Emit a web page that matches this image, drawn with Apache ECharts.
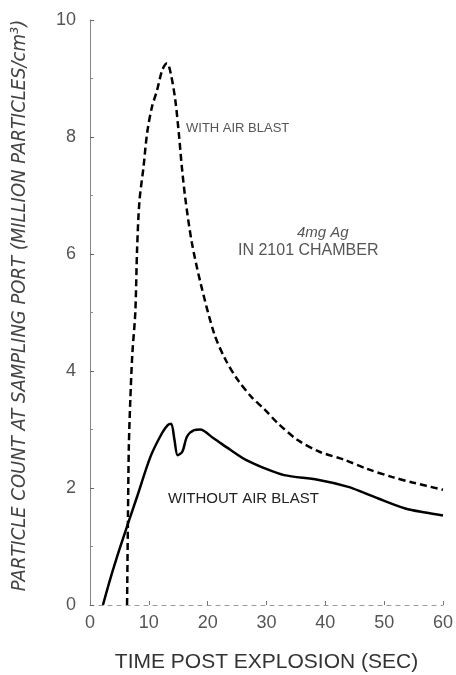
<!DOCTYPE html>
<html>
<head>
<meta charset="utf-8">
<script src="https://cdn.jsdelivr.net/npm/echarts@6/dist/echarts.min.js"></script>
<style>html,body{margin:0;padding:0;background:#fff}#c{width:456px;height:675px}</style>
</head>
<body>
<div id="c"></div>
<script>
// Without air blast (solid)
var withoutX = [2.2, 3.4, 5.0, 6.55, 8.0, 10.3, 12.25, 13.25, 13.8, 14.36, 14.9, 15.7, 16.5, 17.7, 18.7, 21.0, 23.9, 26.5, 29.6, 33.0, 38.7, 43.9, 46.5, 49.0, 53.6, 57.0, 60.0];
var withoutY = [0.0, 0.43, 0.95, 1.42, 1.85, 2.54, 2.94, 3.08, 3.1, 2.82, 2.56, 2.62, 2.88, 2.99, 3.0, 2.85, 2.65, 2.48, 2.34, 2.22, 2.14, 2.02, 1.92, 1.82, 1.65, 1.58, 1.53];
// With air blast (dashed)
var withX = [6.3, 6.45, 6.6, 6.85, 7.2, 7.7, 8.0, 8.4, 9.1, 9.7, 10.5, 11.4, 12.3, 13.1, 13.7, 14.5, 15.1, 15.6, 16.2, 17.3, 18.8, 21.1, 23.0, 25.1, 27.5, 29.6, 32.0, 35.3, 39.0, 43.3, 47.0, 51.3, 55.0, 60.0];
var withY = [0.0, 1.5, 2.7, 3.5, 4.3, 5.0, 6.07, 6.9, 7.49, 8.06, 8.5, 8.8, 9.15, 9.26, 9.1, 8.63, 8.06, 7.5, 6.95, 6.2, 5.5, 4.64, 4.2, 3.85, 3.55, 3.35, 3.1, 2.82, 2.62, 2.48, 2.33, 2.19, 2.09, 1.97];
var xTicks = ['0', '10', '20', '30', '40', '50', '60'];
var yTicks = ['0', '2', '4', '6', '8', '10'];
var labels = {
  withBlast: 'WITH AIR BLAST',
  withoutBlast: 'WITHOUT AIR BLAST',
  note1: '4mg Ag',
  note2: 'IN 2101 CHAMBER',
  xName: 'TIME POST EXPLOSION (SEC)',
  yName: 'PARTICLE COUNT AT SAMPLING PORT (MILLION PARTICLES/cm³)'
};

function zip(a, b) { return a.map(function (v, i) { return [v, b[i]]; }); }

var chart = echarts.init(document.getElementById('c'), null, { renderer: 'canvas' });
chart.setOption({
  backgroundColor: '#fff',
  animation: false,
  grid: { left: 90, right: 13, top: 20, bottom: 70, outerBoundsMode: 'none', containLabel: false },
  xAxis: {
    type: 'value', min: 0, max: 60, interval: 10,
    name: labels.xName, nameLocation: 'middle', nameGap: 47,
    nameTextStyle: { fontFamily: 'Liberation Sans', fontSize: 21, color: '#333' },
    axisLine: { show: true, onZero: false, lineStyle: { color: '#999', width: 1, type: [4, 5] } },
    axisTick: { show: true, inside: true, length: 4, lineStyle: { color: '#777' } },
    axisLabel: { fontFamily: 'Liberation Sans', fontSize: 18, color: '#555', margin: 9,
      formatter: function (v) { return xTicks[Math.round(v / 10)]; } },
    splitLine: { show: false }
  },
  yAxis: {
    type: 'value', min: 0, max: 10, interval: 2,
    name: labels.yName, nameLocation: 'middle', nameGap: 60, nameRotate: 90,
    nameTextStyle: { fontFamily: 'DejaVu Sans Condensed', fontStyle: 'italic', fontSize: 20, color: '#444', padding: [0, 0, 0, 14] },
    axisLine: { show: true, lineStyle: { color: '#888', width: 1 } },
    axisTick: { show: true, inside: true, length: 4, lineStyle: { color: '#666' } },
    minorTick: { show: true, splitNumber: 2, length: 3, lineStyle: { color: '#888' } },
    axisLabel: { fontFamily: 'Liberation Sans', fontSize: 18, color: '#555', margin: 14,
      formatter: function (v) { return yTicks[Math.round(v / 2)]; } },
    splitLine: { show: false }
  },
  series: [
    {
      type: 'line', name: labels.withBlast, data: zip(withX, withY),
      smooth: 0.3, symbol: 'none',
      lineStyle: { color: '#000', width: 2.5, type: [7, 4] }
    },
    {
      type: 'line', name: labels.withoutBlast, data: zip(withoutX, withoutY),
      smooth: 0.3, symbol: 'none',
      lineStyle: { color: '#000', width: 2.5 }
    }
  ],
  graphic: [
    { type: 'text', x: 186, y: 128, style: { text: labels.withBlast, font: '13px "Liberation Sans"', fill: '#555', verticalAlign: 'middle' } },
    { type: 'text', x: 297, y: 233, style: { text: labels.note1, font: 'italic 15px "Liberation Sans"', fill: '#555', verticalAlign: 'middle' } },
    { type: 'text', x: 238, y: 251, style: { text: labels.note2, font: '16px "Liberation Sans"', fill: '#555', verticalAlign: 'middle' } },
    { type: 'text', x: 168, y: 499, style: { text: labels.withoutBlast, font: '15px "Liberation Sans"', fill: '#222', verticalAlign: 'middle' } }
  ]
});
</script>
</body>
</html>
